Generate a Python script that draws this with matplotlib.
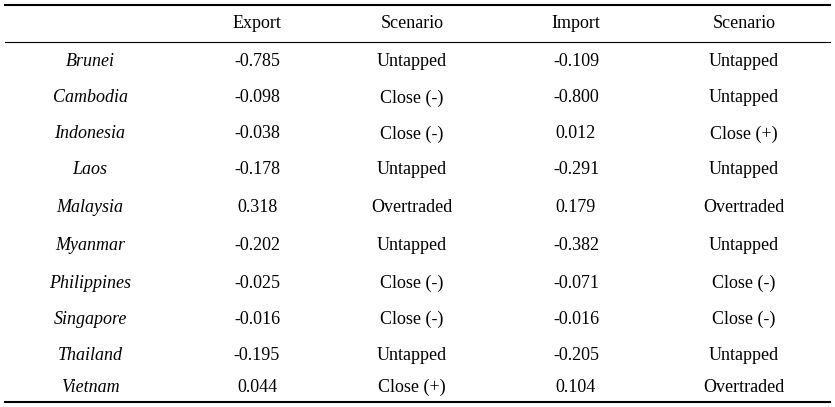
import matplotlib
matplotlib.use('Agg')
import matplotlib.pyplot as plt

countries = ['Brunei', 'Cambodia', 'Indonesia', 'Laos', 'Malaysia', 'Myanmar',
             'Philippines', 'Singapore', 'Thailand', 'Vietnam']
export_vals = ['-0.785', '-0.098', '-0.038', '-0.178', '0.318', '-0.202',
               '-0.025', '-0.016', '-0.195', '0.044']
export_scen = ['Untapped', 'Close (-)', 'Close (-)', 'Untapped', 'Overtraded', 'Untapped',
               'Close (-)', 'Close (-)', 'Untapped', 'Close (+)']
import_vals = ['-0.109', '-0.800', '0.012', '-0.291', '0.179', '-0.382',
               '-0.071', '-0.016', '-0.205', '0.104']
import_scen = ['Untapped', 'Untapped', 'Close (+)', 'Untapped', 'Overtraded', 'Untapped',
               'Close (-)', 'Close (-)', 'Untapped', 'Overtraded']
headers = ['', 'Export', 'Scenario', 'Import', 'Scenario']

W, H = 835, 407
fig = plt.figure(figsize=(W / 100, H / 100), dpi=100)
ax = fig.add_axes([0, 0, 1, 1])
ax.set_xlim(0, W)
ax.set_ylim(H, 0)
ax.axis('off')

font = 'Liberation Serif'
col_x = [90, 257, 412, 576, 744]
row_y = [62, 98, 134, 170, 208, 246, 283, 319, 355, 387]

for x, h in zip(col_x, headers):
    ax.text(x, 24, h, ha='center', va='center', fontsize=13, family=font)

for i, y in enumerate(row_y):
    cells = [countries[i], export_vals[i], export_scen[i], import_vals[i], import_scen[i]]
    for j, (x, c) in enumerate(zip(col_x, cells)):
        ax.text(x, y, c, ha='center', va='center', fontsize=13, family=font,
                style='italic' if j == 0 else 'normal')

ax.plot([5, 830], [5, 5], color='black', lw=1.5)
ax.plot([5, 830], [42, 42], color='black', lw=0.8)
ax.plot([5, 830], [402, 402], color='black', lw=1.5)

fig.savefig('out.png', dpi=100)
